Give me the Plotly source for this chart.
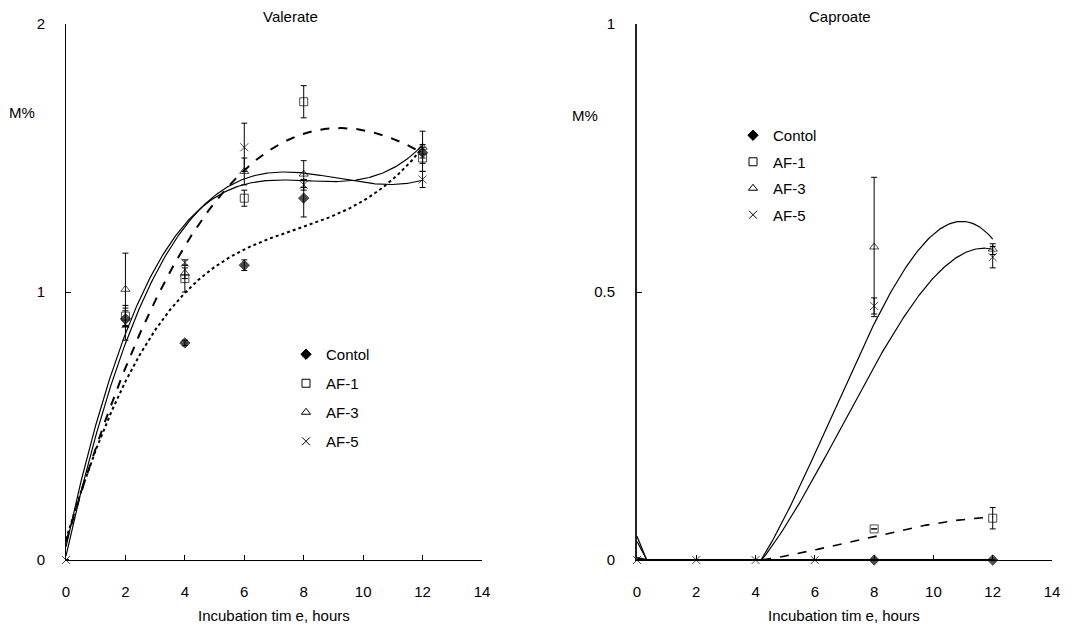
import numpy as np
import plotly.graph_objects as go

# ---------------- data ----------------
hours = [0, 2, 4, 6, 8, 12]
series_names = ["Contol", "AF-1", "AF-3", "AF-5"]

val_control = [0, 0.90, 0.81, 1.10, 1.35, 1.52]
val_control_err = [0, 0.03, 0.01, 0.02, 0.07, 0.02]
val_af1 = [0, 0.91, 1.05, 1.35, 1.71, 1.50]
val_af1_err = [0, 0.04, 0.05, 0.03, 0.06, 0.05]
val_af3 = [0, 1.01, 1.07, 1.45, 1.44, 1.54]
val_af3_err = [0, 0.135, 0.02, 0.05, 0.05, 0.06]
val_af5 = [0, 0.88, 1.11, 1.54, 1.40, 1.42]
val_af5_err = [0, 0.06, 0.01, 0.09, 0.02, 0.03]

cap_control = [0, 0, 0, 0, 0, 0]
cap_control_err = [0, 0, 0, 0, 0, 0]
cap_af1 = [0, 0, 0, 0, 0.058, 0.078]
cap_af1_err = [0, 0, 0, 0, 0, 0.02]
cap_af3 = [0, 0, 0, 0, 0.584, 0.58]
cap_af3_err = [0, 0, 0, 0, 0.13, 0.01]
cap_af5 = [0, 0, 0, 0, 0.474, 0.565]
cap_af5_err = [0, 0, 0, 0, 0.015, 0.02]

x_ticks = [0, 2, 4, 6, 8, 10, 12, 14]

# ---------------- styles ----------------
FONT = "Arial, Liberation Sans, sans-serif"
symbols = ["diamond", "square-open", "triangle-up-open", "x-thin-open"]
MS = 8
# per-point marker sizes (markers hidden behind the AF-5 cross in the original)
val_sizes = [[0, MS, MS, MS, MS, MS], [0, MS, MS, MS, MS, MS],
             [0, MS, MS, MS, MS, MS], [MS] * 6]
cap_sizes = [[0, 0, 0, 0, MS, MS], [0, 0, 0, 0, MS, MS],
             [0, 0, 0, 0, MS, MS], [MS] * 6]
val_line = [dict(dash="dot", width=2), dict(dash="dash", width=2),
            dict(dash="solid", width=1.2), dict(dash="solid", width=1.2)]
cap_line = [dict(dash="solid", width=2.2), dict(dash="dash", width=1.6),
            dict(dash="solid", width=1.2), dict(dash="solid", width=1.2)]

fig = go.Figure()

xs = np.linspace(0, 12, 301)


def add_panel(ys_list, errs_list, lines, size_list, xa, ya, legend):
    # trend lines (3rd order polynomial fits)
    for ys, ln in zip(ys_list, lines):
        coef = np.polyfit(hours, ys, 3)
        fig.add_trace(go.Scatter(x=xs, y=np.polyval(coef, xs), mode="lines",
                                 line=dict(color="black", **ln), showlegend=False,
                                 xaxis=xa, yaxis=ya, hoverinfo="skip"))
    # markers with error bars
    for i, (ys, es) in enumerate(zip(ys_list, errs_list)):
        fig.add_trace(go.Scatter(
            x=hours, y=ys, mode="markers", name=series_names[i],
            marker=dict(symbol=symbols[i], size=size_list[i], color="black",
                        line=dict(color="black", width=1)),
            error_y=dict(type="data", array=es, visible=True, color="black",
                         thickness=1, width=3),
            cliponaxis=False, xaxis=xa, yaxis=ya, showlegend=False))
    # legend entries
    for i in range(len(ys_list)):
        fig.add_trace(go.Scatter(
            x=[None], y=[None], mode="markers", name=series_names[i],
            marker=dict(symbol=symbols[i], size=MS, color="black",
                        line=dict(color="black", width=1)),
            xaxis=xa, yaxis=ya, legend=legend, legendgroup=legend + str(i)))


add_panel([val_control, val_af1, val_af3, val_af5],
          [val_control_err, val_af1_err, val_af3_err, val_af5_err],
          val_line, val_sizes, "x", "y", "legend")
add_panel([cap_control, cap_af1, cap_af3, cap_af5],
          [cap_control_err, cap_af1_err, cap_af3_err, cap_af5_err],
          cap_line, cap_sizes, "x2", "y2", "legend2")

W, H = 1079, 626


def px(xp):
    return xp / W


def py(yp):
    return (H - yp) / H


axis_common = dict(showline=True, linecolor="black", linewidth=1, ticks="inside",
                   ticklen=5, tickcolor="black", showgrid=False, zeroline=False,
                   automargin=False,
                   tickfont=dict(family=FONT, size=15, color="black"))

fig.update_layout(
    width=W, height=H, margin=dict(l=0, r=0, t=0, b=0, autoexpand=False),
    plot_bgcolor="white", paper_bgcolor="white",
    font=dict(family=FONT, size=15, color="black"),
    xaxis=dict(domain=[px(66), px(482)], range=[0, 14], tickvals=x_ticks,
               anchor="y", ticklabelstandoff=18, **axis_common),
    yaxis=dict(domain=[py(560), py(24)], range=[0, 2], tickvals=[0, 1, 2],
               anchor="x", ticklabelstandoff=17, **axis_common),
    xaxis2=dict(domain=[px(637), px(1052)], range=[0, 14], tickvals=x_ticks,
                anchor="y2", ticklabelstandoff=18, **axis_common),
    yaxis2=dict(domain=[py(560), py(24)], range=[0, 1], tickvals=[0, 0.5, 1],
                ticktext=["0", "0.5", "1"], anchor="x2", ticklabelstandoff=17,
                **axis_common),
    legend=dict(x=px(286), y=py(338), xanchor="left", yanchor="top",
                bgcolor="rgba(0,0,0,0)", tracegroupgap=6.5,
                font=dict(family=FONT, size=15, color="black")),
    legend2=dict(x=px(733), y=py(119), xanchor="left", yanchor="top",
                 bgcolor="rgba(0,0,0,0)", tracegroupgap=4,
                 font=dict(family=FONT, size=15, color="black")),
    showlegend=True,
)
fig.update_yaxes(linewidth=2, linecolor="#222", selector=dict(anchor="x2"))

ann = [
    dict(text="Valerate", x=px(290), y=py(17)),
    dict(text="Caproate", x=px(840), y=py(17)),
    dict(text="M%", x=px(22), y=py(112)),
    dict(text="M%", x=px(585), y=py(116)),
    dict(text="Incubation tim e, hours", x=px(274), y=py(615)),
    dict(text="Incubation tim e, hours", x=px(844), y=py(615)),
]
for a in ann:
    fig.add_annotation(xref="paper", yref="paper", showarrow=False,
                       xanchor="center", yanchor="middle",
                       font=dict(family=FONT, size=15, color="black"), **a)

fig.write_html("out.html")
